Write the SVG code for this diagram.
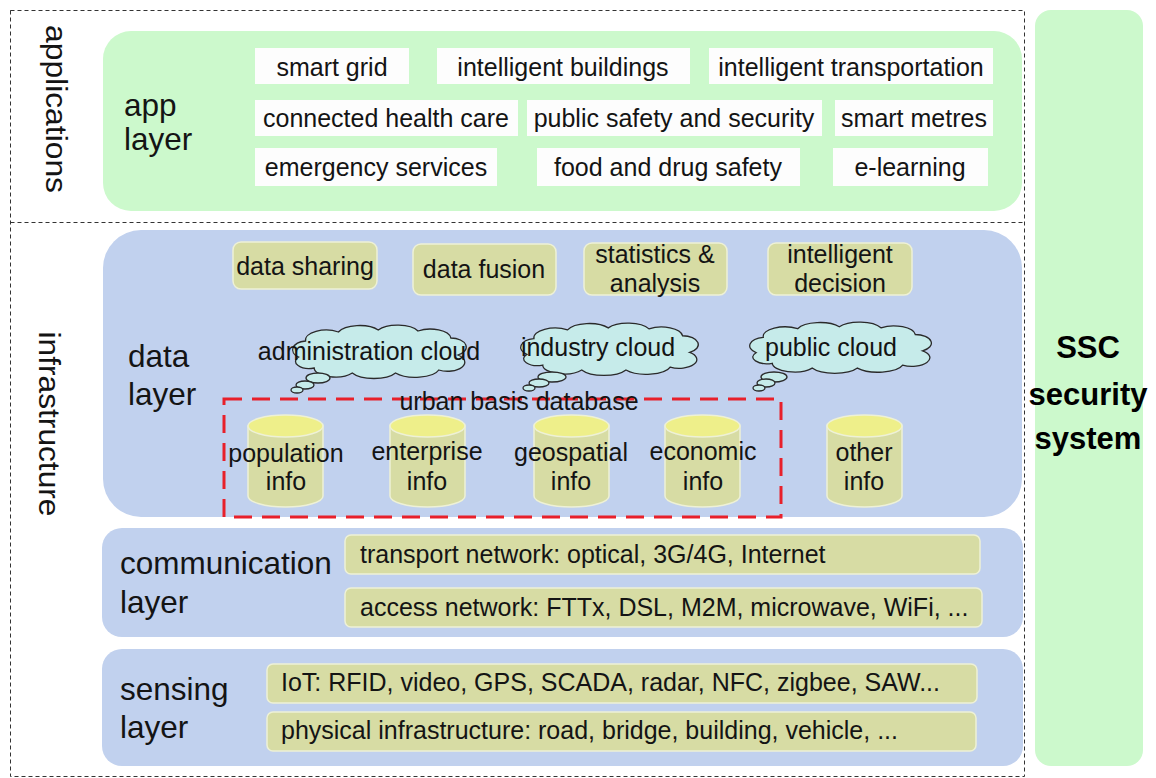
<svg xmlns="http://www.w3.org/2000/svg" xmlns:xlink="http://www.w3.org/1999/xlink" width="1156" height="778" viewBox="0 0 1156 778">
<style>
text{font-family:"Liberation Sans",Arial,sans-serif;fill:#141414}
.t{font-size:25px}
.tc{font-size:25px;text-anchor:middle}
.lbl{font-size:31.5px}
.rot{font-size:30px;text-anchor:middle}
.ssc{font-size:31px;font-weight:bold;text-anchor:middle;fill:#000}
.green{fill:#ccf9cc}
.blue{fill:#c1d1ee}
.white{fill:#fdfdfd}
.olive{fill:#d7dca4;stroke:#eef1d6;stroke-width:1.5}
.cyl{fill:#d7dca4;stroke:#eef1d6;stroke-width:1.5}
.cyltop{fill:#eeef8a;stroke:#eef1d6;stroke-width:1.5}
.cloud{fill:#c6ebea;stroke:#2a2a2a;stroke-width:1.3}
.frame{fill:none;stroke:#333;stroke-width:1;stroke-dasharray:4 3}
.urban{fill:none;stroke:#e8202a;stroke-width:3;stroke-dasharray:18 10}
</style>
<defs>
<path id="cloudshape" vector-effect="non-scaling-stroke" d="M5,32 A9,9 0 0 1 9,16 A12,10 0 0 1 28,7 A13,10 0 0 1 51,5 A13,10 0 0 1 74,6 A12,10 0 0 1 93,13 A9,9 0 0 1 97,30 A10,9 0 0 1 86,45 A14,10 0 0 1 61,48 A14,10 0 0 1 36,48 A12,9 0 0 1 14,43 A8,7 0 0 1 5,32 Z"/>
</defs>
<rect width="1156" height="778" fill="#ffffff"/>

<g id="frame">
<rect class="frame" x="10.5" y="10.5" width="1014" height="766"/>
<line class="frame" x1="10.5" y1="222.5" x2="1024.5" y2="222.5"/>
<text class="rot" transform="translate(46,109) rotate(90)" textLength="168" lengthAdjust="spacingAndGlyphs">applications</text>
<text class="rot" transform="translate(39,424) rotate(90)" textLength="185" lengthAdjust="spacingAndGlyphs">infrastructure</text>
</g>

<g id="ssc">
<rect class="green" x="1035" y="10" width="108" height="756" rx="16"/>
<text class="ssc" x="1088" y="358">SSC</text>
<text class="ssc" x="1088" y="405">security</text>
<text class="ssc" x="1088" y="449">system</text>
</g>

<g id="app-layer">
<rect class="green" x="103" y="31" width="919" height="180" rx="28"/>
<text class="lbl" x="124" y="116">app</text>
<text class="lbl" x="124" y="150">layer</text>
<rect class="white" x="255" y="48" width="154" height="36"/>
<text class="tc" x="332" y="76">smart grid</text>
<rect class="white" x="437" y="48" width="253" height="36"/>
<text class="tc" x="563" y="76">intelligent buildings</text>
<rect class="white" x="709" y="48" width="284" height="36"/>
<text class="tc" x="851" y="76">intelligent transportation</text>
<rect class="white" x="255" y="100" width="263" height="36"/>
<text class="tc" x="386" y="127">connected health care</text>
<rect class="white" x="527" y="100" width="295" height="36"/>
<text class="tc" x="674" y="127">public safety and security</text>
<rect class="white" x="835" y="100" width="158" height="36"/>
<text class="tc" x="914" y="127">smart metres</text>
<rect class="white" x="255" y="148" width="242" height="38"/>
<text class="tc" x="376" y="176">emergency services</text>
<rect class="white" x="537" y="148" width="263" height="38"/>
<text class="tc" x="668" y="176">food and drug safety</text>
<rect class="white" x="833" y="148" width="155" height="38"/>
<text class="tc" x="910" y="176">e-learning</text>
</g>

<g id="data-layer">
<rect class="blue" x="103" y="230" width="919" height="287" rx="38"/>
<text class="lbl" x="128" y="367">data</text>
<text class="lbl" x="128" y="405">layer</text>
<rect class="olive" x="233" y="242" width="144" height="47" rx="8"/>
<text class="tc" x="305" y="275">data sharing</text>
<rect class="olive" x="413" y="244" width="143" height="51" rx="8"/>
<text class="tc" x="484" y="278">data fusion</text>
<rect class="olive" x="584" y="243" width="143" height="52" rx="8"/>
<text class="tc" x="655" y="263">statistics &amp;</text>
<text class="tc" x="655" y="292">analysis</text>
<rect class="olive" x="768" y="243" width="144" height="52" rx="8"/>
<text class="tc" x="840" y="263">intelligent</text>
<text class="tc" x="840" y="292">decision</text>
</g>

<g id="admin-cloud">
<use href="#cloudshape" class="cloud" transform="translate(290,325) scale(1.73,1.0)"/>
<ellipse class="cloud" cx="318" cy="378" rx="12" ry="5"/>
<ellipse class="cloud" cx="305" cy="385" rx="9" ry="4"/>
<ellipse class="cloud" cx="297" cy="390" rx="6" ry="3"/>
<text class="tc" x="369" y="360">administration cloud</text>
</g>

<g id="industry-cloud">
<use href="#cloudshape" class="cloud" transform="translate(518,323) scale(1.77,0.98)"/>
<ellipse class="cloud" cx="552" cy="377" rx="14" ry="5"/>
<ellipse class="cloud" cx="539" cy="383" rx="10" ry="4"/>
<ellipse class="cloud" cx="529" cy="388" rx="6" ry="3"/>
<text class="tc" x="598" y="356">industry cloud</text>
</g>

<g id="public-cloud">
<use href="#cloudshape" class="cloud" transform="translate(747,322) scale(1.81,0.96)"/>
<ellipse class="cloud" cx="774" cy="377" rx="13" ry="5"/>
<ellipse class="cloud" cx="766" cy="383" rx="9" ry="4"/>
<ellipse class="cloud" cx="759" cy="388" rx="6" ry="3"/>
<text class="tc" x="831" y="356">public cloud</text>
</g>

<g id="urban-basis-database">
<rect class="urban" x="224" y="399" width="557" height="118"/>
<text class="tc" x="519" y="410">urban basis database</text>
</g>

<g id="population-info">
<path class="cyl" d="M248,426 L248,496 A37.5,11 0 0 0 323,496 L323,426 Z"/>
<ellipse class="cyltop" cx="285.5" cy="426" rx="37.5" ry="11"/>
<text class="tc" x="286" y="462">population</text>
<text class="tc" x="286" y="490">info</text>
</g>
<g id="enterprise-info">
<path class="cyl" d="M390,426 L390,496 A37.5,11 0 0 0 465,496 L465,426 Z"/>
<ellipse class="cyltop" cx="427.5" cy="426" rx="37.5" ry="11"/>
<text class="tc" x="427" y="460">enterprise</text>
<text class="tc" x="427" y="490">info</text>
</g>
<g id="geospatial-info">
<path class="cyl" d="M534,426 L534,496 A37.5,11 0 0 0 609,496 L609,426 Z"/>
<ellipse class="cyltop" cx="571.5" cy="426" rx="37.5" ry="11"/>
<text class="tc" x="571" y="461">geospatial</text>
<text class="tc" x="571" y="490">info</text>
</g>
<g id="economic-info">
<path class="cyl" d="M665,426 L665,496 A37.5,11 0 0 0 740,496 L740,426 Z"/>
<ellipse class="cyltop" cx="702.5" cy="426" rx="37.5" ry="11"/>
<text class="tc" x="703" y="460">economic</text>
<text class="tc" x="703" y="490">info</text>
</g>
<g id="other-info">
<path class="cyl" d="M827,426 L827,496 A37.5,11 0 0 0 902,496 L902,426 Z"/>
<ellipse class="cyltop" cx="864.5" cy="426" rx="37.5" ry="11"/>
<text class="tc" x="864" y="461">other</text>
<text class="tc" x="864" y="490">info</text>
</g>

<g id="communication-layer">
<rect class="blue" x="102" y="528" width="921" height="109" rx="20"/>
<text class="lbl" x="120" y="574">communication</text>
<text class="lbl" x="120" y="613">layer</text>
<rect class="olive" x="345" y="535" width="635" height="39" rx="6"/>
<text class="t" x="360" y="563">transport network: optical, 3G/4G, Internet</text>
<rect class="olive" x="345" y="588" width="637" height="39" rx="6"/>
<text class="t" x="360" y="616">access network: FTTx, DSL, M2M, microwave, WiFi, ...</text>
</g>

<g id="sensing-layer">
<rect class="blue" x="102" y="649" width="921" height="117" rx="20"/>
<text class="lbl" x="120" y="700">sensing</text>
<text class="lbl" x="120" y="738">layer</text>
<rect class="olive" x="267" y="664" width="710" height="39" rx="6"/>
<text class="t" x="281" y="691">IoT: RFID, video, GPS, SCADA, radar, NFC, zigbee, SAW...</text>
<rect class="olive" x="267" y="712" width="709" height="39" rx="6"/>
<text class="t" x="281" y="739">physical infrastructure: road, bridge, building, vehicle, ...</text>
</g>

<g id="connectors"></g>
</svg>
